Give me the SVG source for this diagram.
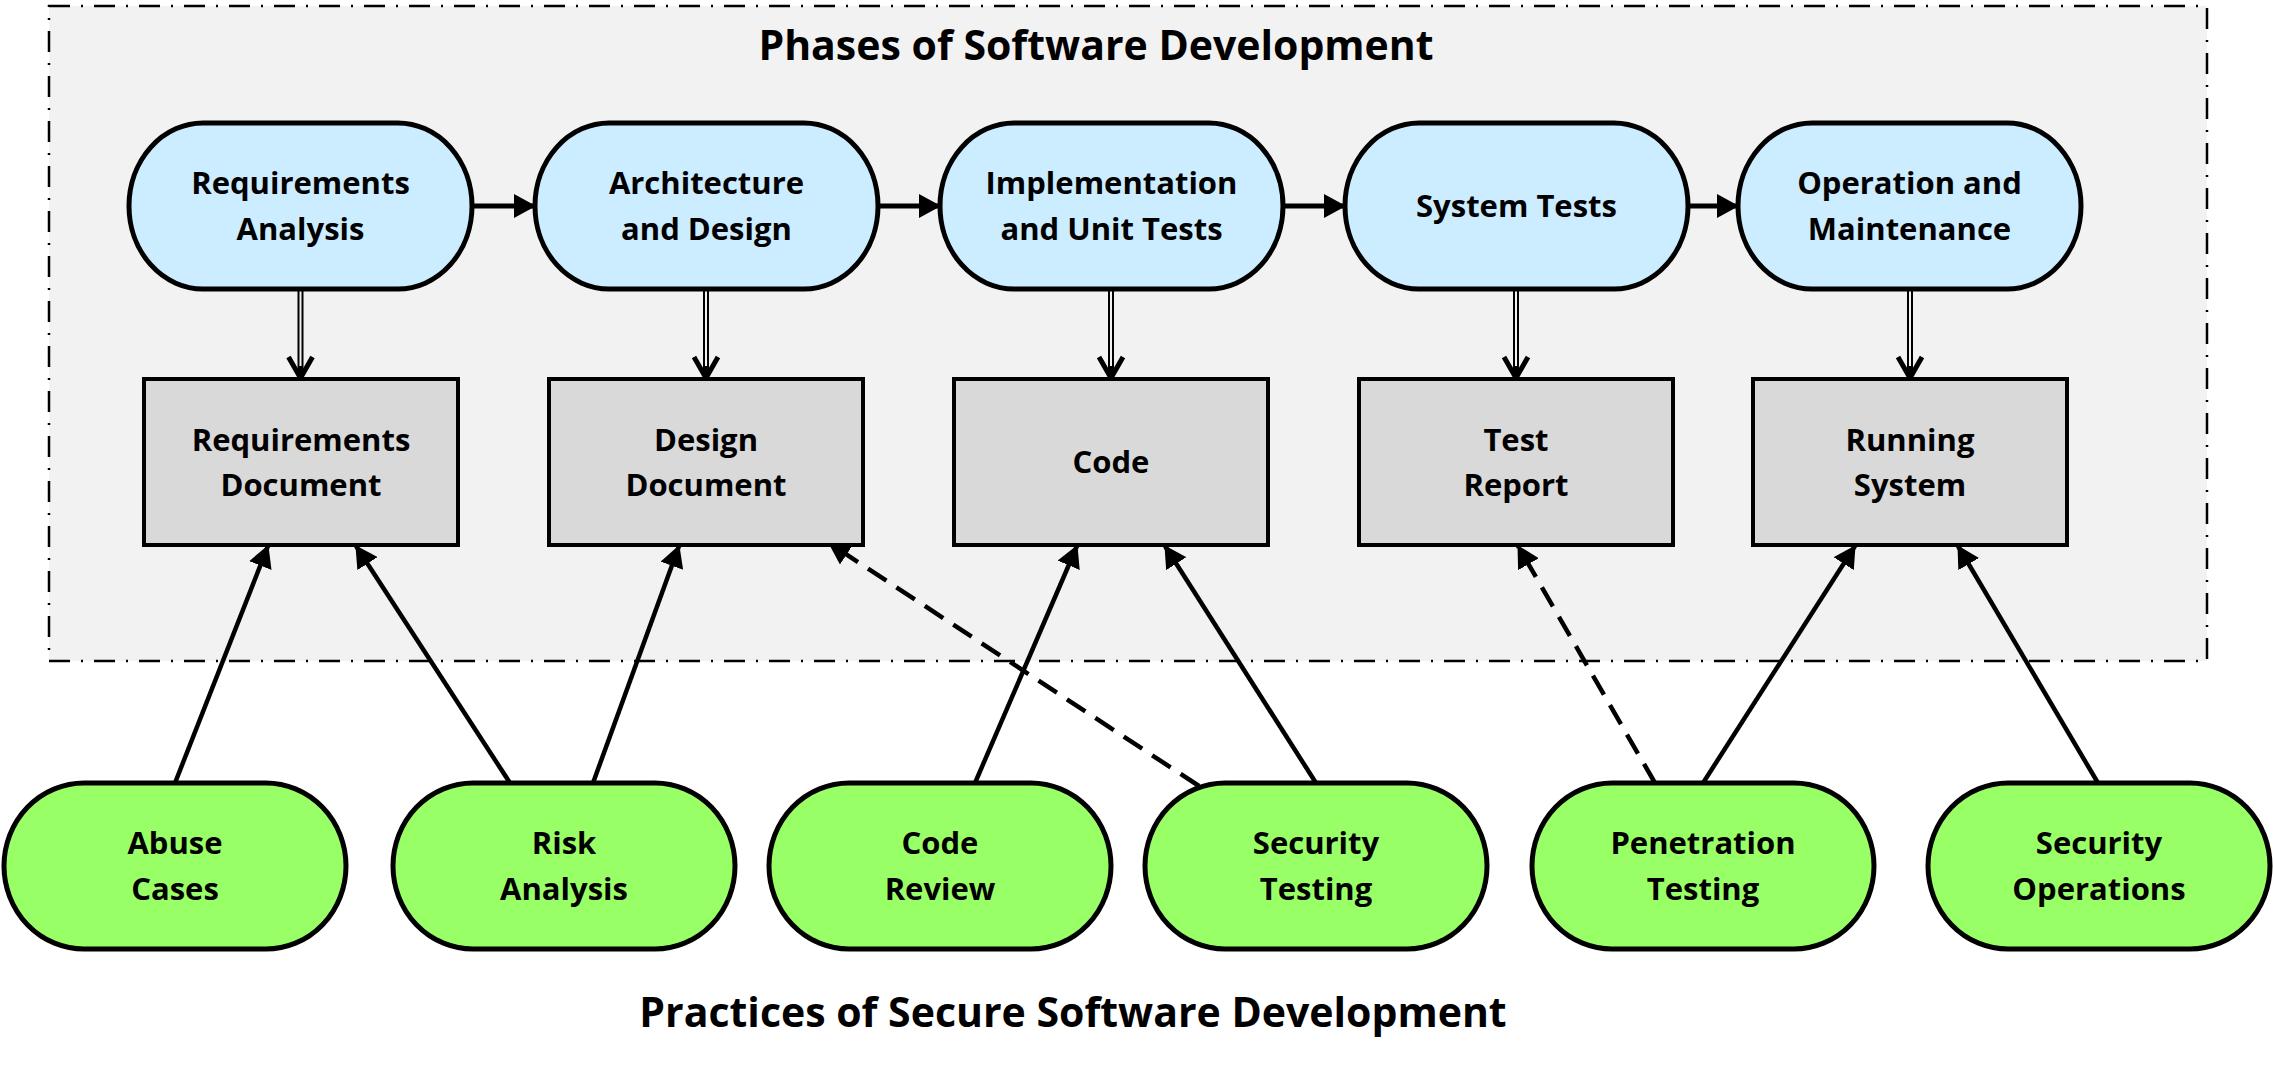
<svg xmlns="http://www.w3.org/2000/svg" width="2273" height="1068" viewBox="0 0 2273 1068">
  <style>
    text { font-family: "Open Sans", "Liberation Sans", sans-serif; font-weight: 700; fill: #000; text-anchor: middle; }
    .lbl { font-size: 31px; }
    .title { font-size: 41px; }
    .phase { fill: #CCECFF; stroke: #000; stroke-width: 5; }
    .artifact { fill: #D9D9D9; stroke: #000; stroke-width: 4; }
    .practice { fill: #99FF66; stroke: #000; stroke-width: 5; }
    .flow { stroke: #000; stroke-width: 5; fill: none; }
    .link { stroke: #000; stroke-width: 4.5; fill: none; }
    .dash { stroke-dasharray: 22 12; }
    .dbl-out { stroke: #000; stroke-width: 6; fill: none; }
    .dbl-in { stroke: #F2F2F2; stroke-width: 2; fill: none; }
    .vhead { stroke: #000; stroke-width: 5; fill: none; stroke-linejoin: miter; }
  </style>
  <defs>
    <marker id="ah" viewBox="0 0 22 24" refX="21" refY="12" markerWidth="22" markerHeight="24" orient="auto" markerUnits="userSpaceOnUse">
      <path d="M0,0 L22,12 L0,24 z" fill="#000"/>
    </marker>
  </defs>

  <rect width="2273" height="1068" fill="#FFFFFF"/>

  <g id="phases-frame">
    <rect x="49" y="6" width="2158" height="655" fill="#F2F2F2" stroke="#000" stroke-width="2.5" stroke-dasharray="21 11 2 11"/>
    <text class="title" x="1096" y="60">Phases of Software Development</text>
  </g>

  <g id="connectors">
    <!-- phase flow -->
    <line class="flow" x1="471" y1="206" x2="535" y2="206" marker-end="url(#ah)"/>
    <line class="flow" x1="878" y1="206" x2="940" y2="206" marker-end="url(#ah)"/>
    <line class="flow" x1="1283" y1="206" x2="1345" y2="206" marker-end="url(#ah)"/>
    <line class="flow" x1="1688" y1="206" x2="1738" y2="206" marker-end="url(#ah)"/>

    <!-- phase to artifact double arrows -->
    <g>
      <line class="dbl-out" x1="300.5" y1="289" x2="300.5" y2="378"/>
      <line class="dbl-in" x1="300.5" y1="289" x2="300.5" y2="366"/>
      <polyline class="vhead" points="288.5,357 300.5,378 312.5,357"/>
    </g>
    <g>
      <line class="dbl-out" x1="706" y1="289" x2="706" y2="378"/>
      <line class="dbl-in" x1="706" y1="289" x2="706" y2="366"/>
      <polyline class="vhead" points="694,357 706,378 718,357"/>
    </g>
    <g>
      <line class="dbl-out" x1="1111" y1="289" x2="1111" y2="378"/>
      <line class="dbl-in" x1="1111" y1="289" x2="1111" y2="366"/>
      <polyline class="vhead" points="1099,357 1111,378 1123,357"/>
    </g>
    <g>
      <line class="dbl-out" x1="1516" y1="289" x2="1516" y2="378"/>
      <line class="dbl-in" x1="1516" y1="289" x2="1516" y2="366"/>
      <polyline class="vhead" points="1504,357 1516,378 1528,357"/>
    </g>
    <g>
      <line class="dbl-out" x1="1910" y1="289" x2="1910" y2="378"/>
      <line class="dbl-in" x1="1910" y1="289" x2="1910" y2="366"/>
      <polyline class="vhead" points="1898,357 1910,378 1922,357"/>
    </g>

    <!-- practices to artifacts -->
    <line class="link" x1="175" y1="783" x2="268" y2="546" marker-end="url(#ah)"/>
    <line class="link" x1="510" y1="783" x2="356" y2="546" marker-end="url(#ah)"/>
    <line class="link" x1="593" y1="783" x2="679" y2="546" marker-end="url(#ah)"/>
    <line class="link" x1="975" y1="783" x2="1077" y2="546" marker-end="url(#ah)"/>
    <line class="link" x1="1316" y1="783" x2="1165" y2="546" marker-end="url(#ah)"/>
    <line class="link dash" x1="1199" y1="786" x2="829" y2="543" marker-end="url(#ah)"/>
    <line class="link dash" x1="1655" y1="783" x2="1518" y2="546" marker-end="url(#ah)"/>
    <line class="link" x1="1703" y1="783" x2="1855" y2="546" marker-end="url(#ah)"/>
    <line class="link" x1="2098" y1="783" x2="1958" y2="546" marker-end="url(#ah)"/>
  </g>

  <!-- phases -->
  <g id="phase-requirements">
    <rect class="phase" x="129" y="123" width="343" height="166" rx="74" ry="83"/>
    <text class="lbl" x="300.5" y="194">Requirements</text>
    <text class="lbl" x="300.5" y="240">Analysis</text>
  </g>
  <g id="phase-architecture">
    <rect class="phase" x="535" y="123" width="343" height="166" rx="74" ry="83"/>
    <text class="lbl" x="706.5" y="194">Architecture</text>
    <text class="lbl" x="706.5" y="240">and Design</text>
  </g>
  <g id="phase-implementation">
    <rect class="phase" x="940" y="123" width="343" height="166" rx="74" ry="83"/>
    <text class="lbl" x="1111.5" y="194">Implementation</text>
    <text class="lbl" x="1111.5" y="240">and Unit Tests</text>
  </g>
  <g id="phase-systemtests">
    <rect class="phase" x="1345" y="123" width="343" height="166" rx="74" ry="83"/>
    <text class="lbl" x="1516.5" y="217">System Tests</text>
  </g>
  <g id="phase-operation">
    <rect class="phase" x="1738" y="123" width="343" height="166" rx="74" ry="83"/>
    <text class="lbl" x="1909.5" y="194">Operation and</text>
    <text class="lbl" x="1909.5" y="240">Maintenance</text>
  </g>

  <!-- artifacts -->
  <g id="artifact-reqdoc">
    <rect class="artifact" x="144" y="379" width="314" height="166"/>
    <text class="lbl" x="301" y="451">Requirements</text>
    <text class="lbl" x="301" y="496">Document</text>
  </g>
  <g id="artifact-designdoc">
    <rect class="artifact" x="549" y="379" width="314" height="166"/>
    <text class="lbl" x="706" y="451">Design</text>
    <text class="lbl" x="706" y="496">Document</text>
  </g>
  <g id="artifact-code">
    <rect class="artifact" x="954" y="379" width="314" height="166"/>
    <text class="lbl" x="1111" y="473">Code</text>
  </g>
  <g id="artifact-testreport">
    <rect class="artifact" x="1359" y="379" width="314" height="166"/>
    <text class="lbl" x="1516" y="451">Test</text>
    <text class="lbl" x="1516" y="496">Report</text>
  </g>
  <g id="artifact-runningsystem">
    <rect class="artifact" x="1753" y="379" width="314" height="166"/>
    <text class="lbl" x="1910" y="451">Running</text>
    <text class="lbl" x="1910" y="496">System</text>
  </g>

  <!-- practices -->
  <g id="practice-abuse">
    <rect class="practice" x="4" y="783" width="342" height="166" rx="80" ry="83"/>
    <text class="lbl" x="175" y="854">Abuse</text>
    <text class="lbl" x="175" y="900">Cases</text>
  </g>
  <g id="practice-risk">
    <rect class="practice" x="393" y="783" width="342" height="166" rx="80" ry="83"/>
    <text class="lbl" x="564" y="854">Risk</text>
    <text class="lbl" x="564" y="900">Analysis</text>
  </g>
  <g id="practice-codereview">
    <rect class="practice" x="769" y="783" width="342" height="166" rx="80" ry="83"/>
    <text class="lbl" x="940" y="854">Code</text>
    <text class="lbl" x="940" y="900">Review</text>
  </g>
  <g id="practice-sectesting">
    <rect class="practice" x="1145" y="783" width="342" height="166" rx="80" ry="83"/>
    <text class="lbl" x="1316" y="854">Security</text>
    <text class="lbl" x="1316" y="900">Testing</text>
  </g>
  <g id="practice-pentest">
    <rect class="practice" x="1532" y="783" width="342" height="166" rx="80" ry="83"/>
    <text class="lbl" x="1703" y="854">Penetration</text>
    <text class="lbl" x="1703" y="900">Testing</text>
  </g>
  <g id="practice-secops">
    <rect class="practice" x="1928" y="783" width="342" height="166" rx="80" ry="83"/>
    <text class="lbl" x="2099" y="854">Security</text>
    <text class="lbl" x="2099" y="900">Operations</text>
  </g>

  <g id="practices-title">
    <text class="title" x="1073" y="1027">Practices of Secure Software Development</text>
  </g>
</svg>
